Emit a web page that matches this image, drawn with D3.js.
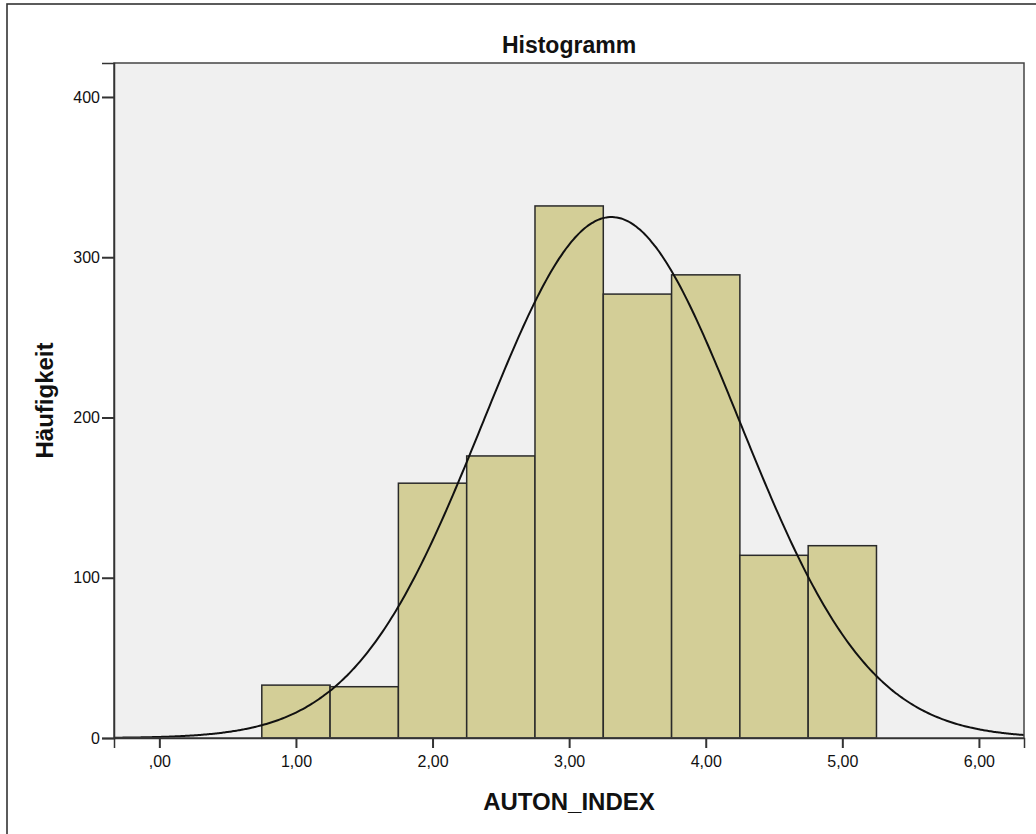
<!DOCTYPE html>
<html>
<head>
<meta charset="utf-8">
<script src="https://cdn.jsdelivr.net/npm/d3@7"></script>
<style>
  html, body { margin: 0; padding: 0; background: #ffffff; }
  svg { display: block; font-family: "Liberation Sans", Arial, sans-serif; }
</style>
</head>
<body>
<svg id="chart" width="1036" height="834"></svg>
<script>
// Histogram bins of AUTON_INDEX (width 0,5) and their counts
const binStarts = [0.75, 1.25, 1.75, 2.25, 2.75, 3.25, 3.75, 4.25, 4.75];
const binWidth = 0.5;
const counts = [33, 32, 159, 176, 332, 277, 289, 114, 120];

// Fitted normal curve parameters
const mean = 3.31;
const stdDev = 0.94;

const xTicks = [0, 1, 2, 3, 4, 5, 6];
const yTicks = [0, 100, 200, 300, 400];

const titleText = "Histogramm";
const xTitle = "AUTON_INDEX";
const yTitle = "Häufigkeit";

const svg = d3.select("#chart");
const plot = { left: 114, top: 63, right: 1024, bottom: 738 };

const x = d3.scaleLinear().domain([-0.332, 6.33]).range([plot.left, plot.right]);
const y = d3.scaleLinear().domain([0, 421.2]).range([plot.bottom, plot.top]);

// outer frame of the chart area
svg.append("rect")
  .attr("x", 7).attr("y", 4).attr("width", 1100).attr("height", 900)
  .attr("fill", "none").attr("stroke", "#333").attr("stroke-width", 1.6);

// plot background
svg.append("rect")
  .attr("x", plot.left).attr("y", plot.top)
  .attr("width", plot.right - plot.left).attr("height", plot.bottom - plot.top)
  .attr("fill", "#f0f0f0");

// bars
const bins = binStarts.map((s, i) => ({ x0: s, x1: s + binWidth, n: counts[i] }));
svg.append("g").selectAll("rect").data(bins).join("rect")
  .attr("x", d => x(d.x0))
  .attr("y", d => y(d.n))
  .attr("width", d => x(d.x1) - x(d.x0))
  .attr("height", d => y(0) - y(d.n))
  .attr("fill", "#d3ce97")
  .attr("stroke", "#2a2a2a")
  .attr("stroke-width", 1.5);

// normal curve scaled to the counts
const total = d3.sum(counts);
const scaleFactor = total * binWidth / (stdDev * Math.sqrt(2 * Math.PI));
const curvePts = d3.range(0, 401).map(i => {
  const xv = x.domain()[0] + (x.domain()[1] - x.domain()[0]) * i / 400;
  const z = (xv - mean) / stdDev;
  return [xv, scaleFactor * Math.exp(-0.5 * z * z)];
});
svg.append("path")
  .datum(curvePts)
  .attr("fill", "none")
  .attr("stroke", "#111")
  .attr("stroke-width", 2)
  .attr("d", d3.line().x(d => x(d[0])).y(d => y(d[1])).curve(d3.curveBasis));

// plot frame
svg.append("rect")
  .attr("x", plot.left).attr("y", plot.top)
  .attr("width", plot.right - plot.left).attr("height", plot.bottom - plot.top)
  .attr("fill", "none").attr("stroke", "#444").attr("stroke-width", 1.5);

const fmtX = v => {
  const s = d3.format(".2f")(v).replace(".", ",");
  return s.startsWith("0,") ? s.slice(1) : s;
};

// x axis
const xAxis = svg.append("g")
  .attr("transform", `translate(0,${plot.bottom})`)
  .call(d3.axisBottom(x).tickValues(xTicks).tickFormat(fmtX).tickSize(10).tickPadding(8));
xAxis.select(".domain").attr("stroke", "#333").attr("stroke-width", 1.5);
xAxis.selectAll(".tick line").attr("stroke", "#333").attr("stroke-width", 2);
xAxis.selectAll("text").attr("font-size", 16).attr("fill", "#111")
  .attr("font-family", "'Liberation Sans', Arial, sans-serif");

// y axis
const yAxis = svg.append("g")
  .attr("transform", `translate(${plot.left},0)`)
  .call(d3.axisLeft(y).tickValues(yTicks).tickFormat(d3.format("d")).tickSize(12).tickPadding(2));
yAxis.select(".domain").attr("stroke", "#333").attr("stroke-width", 1.5);
yAxis.selectAll(".tick line").attr("stroke", "#333").attr("stroke-width", 2);
yAxis.selectAll("text").attr("font-size", 16).attr("fill", "#111")
  .attr("font-family", "'Liberation Sans', Arial, sans-serif");

// titles
svg.append("text")
  .attr("x", (plot.left + plot.right) / 2).attr("y", 53)
  .attr("text-anchor", "middle").attr("font-weight", "bold").attr("font-size", 23)
  .attr("fill", "#111").text(titleText);

svg.append("text")
  .attr("x", (plot.left + plot.right) / 2).attr("y", 810)
  .attr("text-anchor", "middle").attr("font-weight", "bold").attr("font-size", 24)
  .attr("fill", "#111").text(xTitle);

svg.append("text")
  .attr("transform", `translate(53,${(plot.top + plot.bottom) / 2}) rotate(-90)`)
  .attr("text-anchor", "middle").attr("font-weight", "bold").attr("font-size", 24)
  .attr("fill", "#111").text(yTitle);
</script>
</body>
</html>
